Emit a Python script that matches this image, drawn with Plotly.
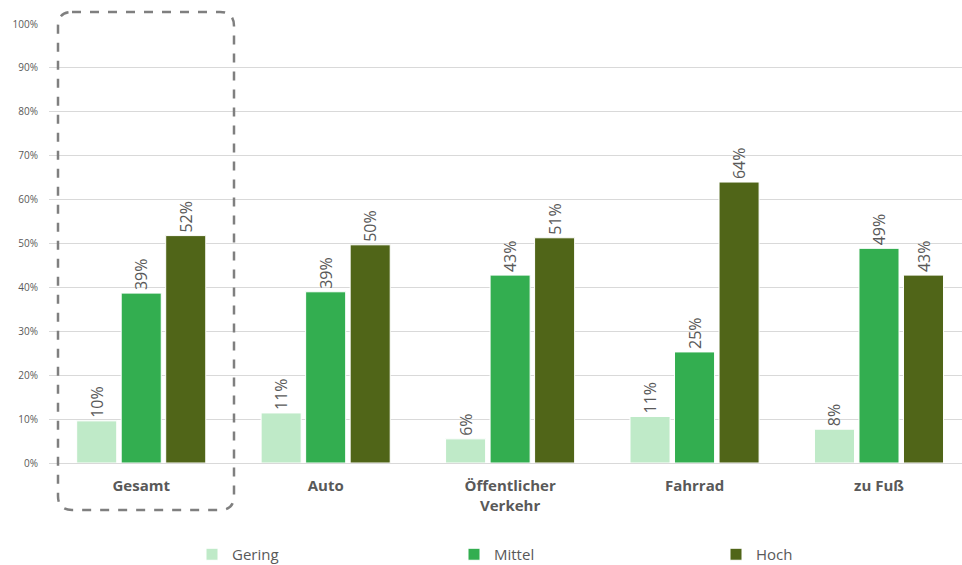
import plotly.graph_objects as go

# Survey shares per mode of transport
categories = ["Gesamt", "Auto", "Öffentlicher<br>Verkehr", "Fahrrad", "zu Fuß"]
series_names = ["Gering", "Mittel", "Hoch"]
gering = [0.096, 0.114, 0.055, 0.106, 0.077]
mittel = [0.387, 0.390, 0.428, 0.253, 0.489]
hoch = [0.518, 0.497, 0.513, 0.640, 0.428]
y_ticks = [i / 10 for i in range(11)]

colors = ["#bfeac8", "#33ae50", "#506518"]
font_family = "Open Sans, Noto Sans, sans-serif"
text_color = "#595959"

fig = go.Figure()
for name, vals, col in zip(series_names, [gering, mittel, hoch], colors):
    fig.add_trace(go.Bar(
        name=name,
        x=list(range(len(categories))),
        y=vals,
        marker=dict(color=col, line=dict(color="white", width=1)),
        texttemplate="%{y:.0%}",
        textposition="outside",
        textangle=-90,
        textfont=dict(size=16, color=text_color, family=font_family),
        cliponaxis=False,
    ))

# plot area geometry in pixels (used for the highlight frame)
W, H = 962, 565
L, R, T, B = 49, 0, 24, 102
pw, ph = W - L - R, H - T - B


def px(x):
    return (x - L) / pw


def py(y):
    return (H - B - y) / ph


def rounded_rect(x0, y0, x1, y1, r):
    rx, ry = r / pw, r / ph
    X0, X1 = px(x0), px(x1)
    Y0, Y1 = py(y0), py(y1)  # Y0 top, Y1 bottom
    return (f"M {X0 + rx},{Y0} L {X1 - rx},{Y0} Q {X1},{Y0} {X1},{Y0 - ry} "
            f"L {X1},{Y1 + ry} Q {X1},{Y1} {X1 - rx},{Y1} "
            f"L {X0 + rx},{Y1} Q {X0},{Y1} {X0},{Y1 + ry} "
            f"L {X0},{Y0 - ry} Q {X0},{Y0} {X0 + rx},{Y0} Z")


fig.add_shape(
    type="path", xref="paper", yref="paper",
    path=rounded_rect(58, 12, 234, 510, 14),
    line=dict(color="#7f7f7f", width=2.5, dash="dash"),
    layer="above",
)

fig.update_layout(
    width=W, height=H,
    margin=dict(l=L, r=R, t=T, b=B, autoexpand=False),
    paper_bgcolor="white", plot_bgcolor="white",
    barmode="group", bargap=0.276, bargroupgap=0.1,
    font=dict(family=font_family, color=text_color),
    showlegend=True,
    legend=dict(
        orientation="h", x=px(192), xanchor="left", y=py(538), yanchor="top",
        font=dict(size=15, color=text_color, family=font_family),
        itemwidth=30,
        entrywidth=217, entrywidthmode="pixels",
        itemclick=False,
    ),
    xaxis=dict(
        range=[-0.5, 4.45],
        tickmode="array", tickvals=list(range(len(categories))),
        ticktext=[f"<b>{c}</b>" for c in categories],
        tickfont=dict(size=15, color=text_color, family=font_family),
        showgrid=False, showline=False, zeroline=False, ticks="",
        ticklabelstandoff=12,
    ),
    yaxis=dict(
        range=[0, 1],
        tickvals=y_ticks, tickformat=".0%",
        tickfont=dict(size=10, color=text_color, family=font_family),
        showgrid=True, gridcolor="#d9d9d9", gridwidth=1,
        zeroline=True, zerolinecolor="#d9d9d9", zerolinewidth=1,
        showline=False, ticks="", ticklabelstandoff=10,
    ),
)

fig.write_html("out.html")
